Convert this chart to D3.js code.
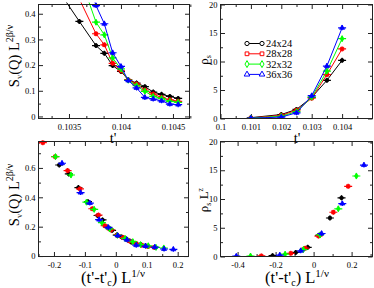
<!DOCTYPE html>
<html>
<head>
<meta charset="utf-8">
<script src="https://cdn.jsdelivr.net/npm/d3@7"></script>
<style>
body { margin: 0; background: #fff; }
svg text { font-family: "Liberation Serif", "DejaVu Serif", serif; fill: #000; }
</style>
</head>
<body>
<svg id="chart" width="374" height="288"></svg>
<script>
var sizes = ["24x24", "28x28", "32x32", "36x36"];
var colors = ["#000000", "#ff0000", "#00ff00", "#0000ff"];

// structure factor vs t'
var tStruct = [0.10313, 0.10329, 0.10344, 0.10360, 0.10376, 0.10384, 0.10392, 0.10400, 0.10407, 0.10415, 0.10423, 0.10431, 0.10439, 0.10447, 0.10455];
var sq24 = [0.62, 0.559, 0.466, 0.37, 0.276, 0.246, 0.198, 0.175, 0.143, 0.130, 0.116, 0.095, 0.086, 0.078, 0.070];
var sq28 = [0.772, 0.677, 0.582, 0.457, 0.322, 0.279, 0.207, 0.178, 0.142, 0.126, 0.103, 0.087, 0.074, 0.065, 0.059];
var sq32 = [null, null, 0.677, 0.552, 0.367, 0.318, 0.228, 0.185, 0.141, 0.120, 0.098, 0.078, 0.070, 0.059, 0.055];
var sq36 = [null, null, null, 0.632, 0.432, 0.361, 0.248, 0.195, 0.140, 0.111, 0.074, 0.068, 0.061, 0.048, 0.046];

// scaled abscissa (t'-t'c) L^(1/v) for the collapse
var xs24 = [-0.183, -0.152, -0.121, -0.090, -0.059, -0.043, -0.028, -0.012, 0.003, 0.019, 0.034, 0.050, 0.065, 0.081, 0.096];
var xs28 = [-0.236, -0.196, -0.156, -0.116, -0.076, -0.056, -0.036, -0.016, 0.004, 0.024, 0.044, 0.064, 0.084, 0.104, 0.124];
var xs32 = [null, null, -0.195, -0.145, -0.095, -0.070, -0.045, -0.020, 0.005, 0.030, 0.055, 0.080, 0.105, 0.130, 0.155];
var xs36 = [null, null, null, -0.174, -0.114, -0.084, -0.054, -0.024, 0.006, 0.036, 0.066, 0.096, 0.126, 0.156, 0.186];

// superfluid density vs t'
var tRho = [0.101, 0.102, 0.1025, 0.103, 0.1035, 0.104];
var rho24 = [0.15, 0.7, 1.6, 3.7, 6.7, 10.2];
var rho28 = [0.1, 0.55, 1.45, 3.55, 7.7, 12.2];
var rho32 = [0.07, 0.4, 1.2, 3.75, 8.3, 14.0];
var rho36 = [0.05, 0.25, 1.0, 4.0, 9.2, 15.9];

var xr24 = [-0.216, -0.094, -0.031, 0.028, 0.086, 0.147];
var xr28 = [-0.275, -0.120, -0.044, 0.026, 0.104, 0.182];
var xr32 = [-0.332, -0.150, -0.054, 0.034, 0.130, 0.225];
var xr36 = [-0.407, -0.178, -0.068, 0.042, 0.151, 0.265];

var symbols = [d3.symbolCircle, d3.symbolSquare, d3.symbolDiamond, d3.symbolTriangle];

var svg = d3.select("#chart");
var clipId = 0;

function fmt(v) {
    return String(+v.toFixed(5));
}

function range(a, b, step) {
    var out = [], i, n = Math.round((b - a) / step);
    for (i = 0; i <= n; i++) { out.push(+(a + i * step).toFixed(6)); }
    return out;
}

function pairs(xs, ys) {
    return xs.map(function (x, i) { return [x, ys[i]]; })
        .filter(function (d) { return d[0] != null && d[1] != null; });
}

function drawPanel(p) {
    var g = svg.append("g"),
        x = d3.scaleLinear().domain(p.xDomain).range([p.left, p.right]),
        y = d3.scaleLinear().domain(p.yDomain).range([p.bottom, p.top]),
        id = "clip" + (clipId++);

    g.append("clipPath").attr("id", id).append("rect")
        .attr("x", p.left).attr("y", p.top - 2)
        .attr("width", p.right - p.left).attr("height", p.bottom - p.top + 2);

    var axes = [
        [d3.axisBottom(x).tickValues(p.xMajor).tickSize(-4.5).tickPadding(5).tickFormat(fmt), "translate(0," + p.bottom + ")"],
        [d3.axisBottom(x).tickValues(p.xMinor).tickSize(-2.5).tickFormat(""), "translate(0," + p.bottom + ")"],
        [d3.axisTop(x).tickValues(p.xMajor).tickSize(-4.5).tickFormat(""), "translate(0," + p.top + ")"],
        [d3.axisTop(x).tickValues(p.xMinor).tickSize(-2.5).tickFormat(""), "translate(0," + p.top + ")"],
        [d3.axisLeft(y).tickValues(p.yMajor).tickSize(-4.5).tickPadding(3).tickFormat(fmt), "translate(" + p.left + ",0)"],
        [d3.axisLeft(y).tickValues(p.yMinor).tickSize(-2.5).tickFormat(""), "translate(" + p.left + ",0)"],
        [d3.axisRight(y).tickValues(p.yMajor).tickSize(-4.5).tickFormat(""), "translate(" + p.right + ",0)"],
        [d3.axisRight(y).tickValues(p.yMinor).tickSize(-2.5).tickFormat(""), "translate(" + p.right + ",0)"]
    ];
    axes.forEach(function (a) {
        var ag = g.append("g").attr("transform", a[1]).call(a[0]);
        ag.select(".domain").remove();
        ag.selectAll("line").attr("stroke", "#222");
        ag.selectAll("text").style("font-family", "Liberation Serif").style("font-size", "8.5px").attr("fill", "#000");
    });

    var plot = g.append("g").attr("clip-path", "url(#" + id + ")");

    p.series.forEach(function (s, i) {
        var pts = pairs(s.x, s.y);
        if (p.lines) {
            plot.append("path")
                .datum(pts)
                .attr("fill", "none")
                .attr("stroke", colors[i])
                .attr("stroke-width", 1)
                .attr("d", d3.line().x(function (d) { return x(d[0]); }).y(function (d) { return y(d[1]); }));
        }
        var m = plot.selectAll(".m" + i)
            .data(pts)
            .enter()
            .append("g")
            .attr("transform", function (d) { return "translate(" + x(d[0]) + "," + y(d[1]) + ")"; });
        m.append("line").attr("x1", -4).attr("x2", 4).attr("stroke", colors[i]).attr("stroke-width", 1.2);
        m.append("line").attr("y1", -2.5).attr("y2", 2.5).attr("stroke", colors[i]).attr("stroke-width", 1.2);
        m.append("path")
            .attr("d", d3.symbol().type(symbols[i]).size(11))
            .attr("fill", colors[i])
            .attr("stroke", colors[i])
            .attr("stroke-width", 0.8);
    });

    g.append("rect")
        .attr("x", p.left).attr("y", p.top)
        .attr("width", p.right - p.left).attr("height", p.bottom - p.top)
        .attr("fill", "none").attr("stroke", "#222").attr("stroke-width", 1);
}

drawPanel({
    left: 38.5, right: 189.5, top: 4.5, bottom: 118.5,
    xDomain: [0.103207, 0.104659], yDomain: [-0.008, 0.436],
    xMajor: [0.1035, 0.104, 0.1045],
    xMinor: [0.103333, 0.103667, 0.103833, 0.104167, 0.104333, 0.104667],
    yMajor: range(0, 0.4, 0.1), yMinor: range(0.05, 0.35, 0.1),
    lines: true,
    series: [
        { x: tStruct, y: sq24 }, { x: tStruct, y: sq28 },
        { x: tStruct, y: sq32 }, { x: tStruct, y: sq36 }
    ]
});

drawPanel({
    left: 220.5, right: 372.5, top: 4.5, bottom: 118.5,
    xDomain: [0.1, 0.105], yDomain: [0, 20],
    xMajor: range(0.1, 0.104, 0.001), xMinor: range(0.1005, 0.1045, 0.001),
    yMajor: range(0, 20, 5), yMinor: range(2.5, 17.5, 5),
    lines: true,
    series: [
        { x: tRho, y: rho24 }, { x: tRho, y: rho28 },
        { x: tRho, y: rho32 }, { x: tRho, y: rho36 }
    ]
});

drawPanel({
    left: 38.5, right: 188.5, top: 141.5, bottom: 256.5,
    xDomain: [-0.25, 0.235], yDomain: [-0.003, 0.78],
    xMajor: range(-0.2, 0.2, 0.1), xMinor: [-0.25, -0.15, -0.05, 0.05, 0.15],
    yMajor: range(0, 0.6, 0.2), yMinor: range(0.1, 0.7, 0.2),
    lines: false,
    series: [
        { x: xs24, y: sq24 }, { x: xs28, y: sq28 },
        { x: xs32, y: sq32 }, { x: xs36, y: sq36 }
    ]
});

drawPanel({
    left: 220.5, right: 372.5, top: 141.5, bottom: 256.5,
    xDomain: [-0.49, 0.31], yDomain: [0, 20],
    xMajor: range(-0.4, 0.2, 0.2), xMinor: range(-0.3, 0.3, 0.2),
    yMajor: range(0, 20, 5), yMinor: range(2.5, 17.5, 5),
    lines: false,
    series: [
        { x: xr24, y: rho24 }, { x: xr28, y: rho28 },
        { x: xr32, y: rho32 }, { x: xr36, y: rho36 }
    ]
});

// legend inside the rho_s panel
var legend = svg.append("g").selectAll("g")
    .data(sizes)
    .enter()
    .append("g")
    .attr("transform", function (d, i) { return "translate(247," + (43.5 + i * 10.3) + ")"; });
legend.append("line")
    .attr("x1", 0).attr("x2", 15)
    .attr("stroke", function (d, i) { return colors[i]; });
legend.each(function (d, i) {
    d3.select(this).selectAll("path")
        .data([0, 15])
        .enter()
        .append("path")
        .attr("transform", function (v) { return "translate(" + v + ",0)"; })
        .attr("d", d3.symbol().type(symbols[i]).size(14))
        .attr("fill", "#fff")
        .attr("stroke", colors[i]);
});
legend.append("text")
    .attr("x", 19).attr("dy", "0.35em")
    .style("font-size", "10.5px")
    .text(function (d) { return d; });

// axis titles
function ylabel(xp, yp, parts) {
    var t = svg.append("text")
        .attr("transform", "translate(" + xp + "," + yp + ") rotate(-90)")
        .attr("text-anchor", "middle");
    parts.forEach(function (p) {
        t.append("tspan").attr("dy", p[1]).style("font-size", p[2] + "px").text(p[0]);
    });
}

svg.append("text").attr("x", 113).attr("y", 143).attr("text-anchor", "middle").style("font-size", "14.5px").text("t'");
svg.append("text").attr("x", 297).attr("y", 143).attr("text-anchor", "middle").style("font-size", "14.5px").text("t'");

ylabel(19, 56, [["S", 0, 14.5], ["v", 3, 8.5], ["(Q) L", -3, 14.5], ["2β/ν", -6, 10]]);
ylabel(19, 195, [["S", 0, 14.5], ["v", 3, 8.5], ["(Q) L", -3, 14.5], ["2β/ν", -6, 10]]);
ylabel(208, 60, [["ρ", 0, 13], ["s", 3, 8]]);
ylabel(208, 200, [["ρ", 0, 13], ["s", 3, 8], [" L", -3, 13], ["z", -5, 8]]);

[113, 297].forEach(function (cx) {
    var t = svg.append("text").attr("x", cx).attr("y", 283).attr("text-anchor", "middle");
    t.append("tspan").style("font-size", "16.5px").text("(t'-t'");
    t.append("tspan").attr("dy", 3).style("font-size", "10px").text("c");
    t.append("tspan").attr("dy", -3).style("font-size", "16.5px").text(") L");
    t.append("tspan").attr("dy", -6).style("font-size", "11px").text("1/ν");
});
</script>
</body>
</html>
